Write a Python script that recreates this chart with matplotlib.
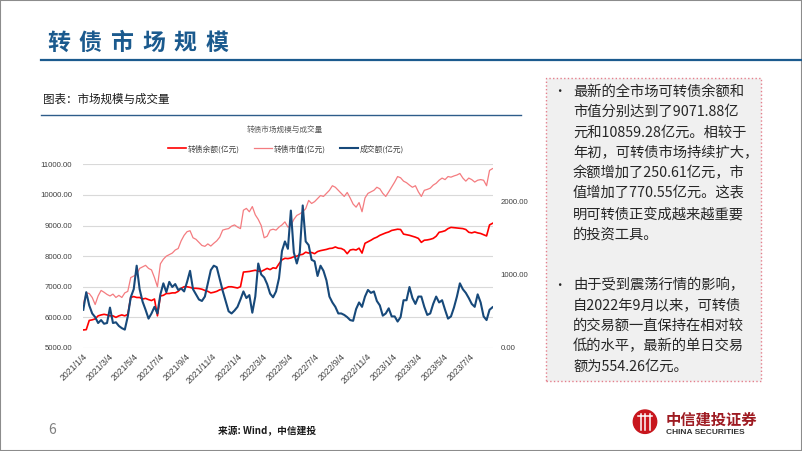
import numpy as np
import pandas as pd
import matplotlib
matplotlib.use('Agg')
import matplotlib.pyplot as plt
from matplotlib.patches import Rectangle, Ellipse
from matplotlib.lines import Line2D

plt.rcParams['font.family'] = ['Noto Sans CJK SC', 'DejaVu Sans']

# weekly points, first one is 2021/1/4
start_date = '2021-01-04'

# 转债余额(亿元)
balance = [
    5590, 5600, 5900, 5920, 5950, 6050, 6080, 6100, 6080, 6050,
    6050, 6000, 6050, 6080, 6050, 6100, 6650, 6680, 6650, 6650,
    6600, 6620, 6580, 6550, 6600, 6050, 6700, 6720, 6780, 6780,
    6800, 6800, 6850, 6950, 7000, 7000, 6980, 6950, 6950, 6940,
    6920, 6880, 6850, 6800, 6820, 6850, 6900, 6920, 6960, 7000,
    7000, 6980, 6960, 7000, 7480, 7490, 7500, 7520, 7540, 7510,
    7500, 7550, 7600, 7560, 7620, 7600, 7750, 7880, 7930, 7920,
    7940, 7980, 8000, 8040, 8060, 8130, 8100, 8120, 8080, 8150,
    8180, 8200, 8220, 8250, 8260, 8300, 8260, 8250, 8200, 8080,
    8200, 8220, 8200, 8260, 8100, 8420, 8470, 8520, 8580, 8620,
    8680, 8720, 8760, 8790, 8840, 8860, 8880, 8870, 8720, 8700,
    8680, 8650, 8620, 8580, 8450, 8520, 8530, 8550, 8580, 8650,
    8780, 8800, 8830, 8900, 8940, 8930, 8920, 8910, 8900, 8870,
    8780, 8760, 8790, 8760, 8740, 8700, 8660, 9020, 9071.88]

# 转债市值(亿元)
market_value = [
    6450, 6800, 6780, 6650, 6420, 6700, 6880, 6820, 6750, 6700,
    6760, 6650, 6720, 6650, 6800, 6850, 7300, 7350, 7400, 7600,
    7650, 7700, 7600, 7550, 7300, 7000, 7750, 7900, 8000, 8050,
    8100, 8200, 8250, 8500, 8680, 8800, 8830, 8600, 8550, 8450,
    8350, 8320, 8400, 8330, 8420, 8500, 8620, 8850, 8880, 8900,
    8980, 9020, 8950, 8900, 9500, 9560, 9450, 9620, 9350, 9200,
    9000, 8600, 8650, 8850, 8880, 8850, 8950, 9020, 9120, 8950,
    9000, 9200, 9330, 9380, 9450, 9550, 9820, 9720, 9780, 9880,
    9980, 9950, 10050, 10150, 10300, 10250, 10150, 10050, 9950, 10080,
    9900, 9700, 9600, 9750, 9450, 9900, 10050, 10100, 10150, 10250,
    10200, 10050, 9950, 10100, 10260, 10420, 10600, 10560, 10450, 10400,
    10320, 10250, 10300, 10100, 9950, 10150, 10180, 10220, 10320, 10380,
    10480, 10550, 10500, 10600, 10580, 10620, 10650, 10700, 10550, 10450,
    10550, 10500, 10420, 10480, 10500, 10480, 10300, 10800, 10859.28]

# 成交额(亿元), right axis
turnover = [
    520, 760, 580, 470, 420, 340, 380, 330, 340, 550,
    340, 350, 300, 270, 250, 430, 690, 800, 1120, 800,
    630, 520, 400, 470, 560, 470, 730, 880, 760, 900,
    830, 870, 790, 810, 770, 900, 1050, 800, 730, 660,
    640, 700, 880, 1060, 1120, 1100, 940, 780, 640, 500,
    470, 510, 560, 660, 770, 680, 720, 480, 700, 1150,
    1000, 960, 870, 740, 690, 770, 950, 1320, 1450, 1350,
    1870, 1300, 1150, 1300, 1940, 1450, 1400, 1200, 1180, 980,
    1120, 1050, 920, 700, 620, 560, 470, 470, 450, 420,
    380, 370, 530, 620, 560, 700, 790, 750, 770, 640,
    580, 440, 470, 540, 430, 430, 360, 420, 650, 650,
    830, 680, 600, 700, 700, 560, 450, 470, 600, 700,
    620, 650, 520, 400, 430, 550, 700, 880, 800, 750,
    680, 600, 560, 730, 620, 430, 380, 520, 554.26]

x_tick_labels = ['2021/1/4', '2021/3/4', '2021/5/4', '2021/7/4', '2021/9/4',
                 '2021/11/4', '2022/1/4', '2022/3/4', '2022/5/4', '2022/7/4',
                 '2022/9/4', '2022/11/4', '2023/1/4', '2023/3/4', '2023/5/4',
                 '2023/7/4']
left_ticks = [5000, 6000, 7000, 8000, 9000, 10000, 11000]
right_ticks = [0, 1000, 2000]

para1 = ['最新的全市场可转债余额和',
         '市值分别达到了9071.88亿',
         '元和10859.28亿元。相较于',
         '年初，可转债市场持续扩大，',
         '余额增加了250.61亿元，市',
         '值增加了770.55亿元。这表',
         '明可转债正变成越来越重要',
         '的投资工具。']
para2 = ['由于受到震荡行情的影响，',
         '自2022年9月以来，可转债',
         '的交易额一直保持在相对较',
         '低的水平，最新的单日交易',
         '额为554.26亿元。']

W, H = 802, 451


def px(x, y):
    # pixel position (from top left) -> figure fraction
    return x / W, 1 - y / H


fig = plt.figure(figsize=(W / 100, H / 100), dpi=100)
fig.patch.set_facecolor('white')

dates = pd.date_range(start_date, periods=len(balance), freq='7D')

ax = fig.add_axes([83.3 / W, 1 - 348 / H, (492.5 - 83.3) / W, (348 - 164.3) / H])
l1, = ax.plot(dates, balance, color='#FF0000', lw=1.2, label='转债余额(亿元)')
l2, = ax.plot(dates, market_value, color='#F47C80', lw=0.9, label='转债市值(亿元)')
ax.set_ylim(5000, 11000)
ax.set_yticks(left_ticks)
ax.set_yticklabels(['%.2f' % v for v in left_ticks], family='Liberation Sans',
                   fontsize=5.6, color='#404040')
ax.set_xlim(dates[0], dates[-1])
ax.set_xticks(pd.to_datetime(x_tick_labels, format='%Y/%m/%d'))
ax.set_xticklabels(x_tick_labels, rotation=45, ha='right', rotation_mode='anchor',
                   family='Liberation Sans', fontsize=6.3, color='#404040')
ax.yaxis.grid(True, color='#D9D9D9', lw=0.8)
ax.set_axisbelow(True)
ax.tick_params(axis='both', length=0)
ax.tick_params(axis='y', pad=8)
ax.tick_params(axis='x', pad=3)
for s in ax.spines.values():
    s.set_visible(False)

ax2 = ax.twinx()
l3, = ax2.plot(dates, turnover, color='#17497A', lw=1.5, label='成交额(亿元)')
ax2.set_ylim(0, 2500)
ax2.set_yticks(right_ticks)
ax2.set_yticklabels(['%.2f' % v for v in right_ticks], family='Liberation Sans',
                    fontsize=5.6, color='#404040')
ax2.tick_params(axis='y', length=0, pad=6)
for s in ax2.spines.values():
    s.set_visible(False)

# chart title and legend
fig.text(*px(285, 131), '转债市场规模与成交量', fontsize=5.5, color='#595959',
         ha='center', va='center')
fig.legend(handles=[l1, l2, l3], loc='center', bbox_to_anchor=px(286, 149),
           ncol=3, frameon=False, fontsize=5.6, handlelength=2.3,
           handletextpad=0.2, columnspacing=1.9, labelcolor='#404040')

# slide frame
fig.add_artist(Rectangle((0, 0), 1, 1, transform=fig.transFigure, fill=False,
                         edgecolor='#8C8C8C', lw=1.5))

# slide title
for k, ch in enumerate('转债市场规模'):
    fig.text(*px(47 + k * 31.7, 43), ch, fontsize=16.5, fontweight='bold',
             color='#1B5A8E', ha='left', va='center')
fig.add_artist(Line2D([40.7 / W, 1], [1 - 60 / H] * 2, transform=fig.transFigure,
                      color='#1B5A8E', lw=1.6))

fig.text(*px(43, 99), '图表：市场规模与成交量', fontsize=8.3, color='#1A1A1A',
         ha='left', va='center')
fig.add_artist(Line2D([41 / W, 521 / W], [1 - 115 / H] * 2, transform=fig.transFigure,
                      color='#2E5C8A', lw=1.0))

# text box on the right
x0, y0 = px(546, 380.7)
fig.add_artist(Rectangle((x0, y0), (760.7 - 546) / W, (380.7 - 78.3) / H,
                         transform=fig.transFigure, facecolor='#F0F0F0',
                         edgecolor='#E57F8C', lw=1.0, linestyle=':'))
for j, line in enumerate(para1):
    fig.text(*px(573, 91.7 + j * 20.4), line, fontsize=10.3, color='#262626',
             ha='left', va='center')
fig.text(*px(559, 91.7), '•', fontsize=9, color='#262626', ha='center', va='center')
for j, line in enumerate(para2):
    fig.text(*px(573, 285 + j * 20.4), line, fontsize=10.3, color='#262626',
             ha='left', va='center')
fig.text(*px(559, 285), '•', fontsize=9, color='#262626', ha='center', va='center')

# footer
fig.text(*px(48, 430), '6', fontsize=10, color='#7F7F7F', ha='left', va='center')
fig.text(*px(218, 431.5), '来源: Wind，中信建投', fontsize=7, fontweight='bold',
         color='#1A1A1A', ha='left', va='center')

# logo
cx, cy = px(645, 421.7)
fig.add_artist(Ellipse((cx, cy), 23.4 / W, 23.4 / H, transform=fig.transFigure,
                       color='#C8161D'))
for dx in (-4.5, 0, 4.5):
    fig.add_artist(Line2D([(645 + dx) / W] * 2, [1 - 414 / H, 1 - 430 / H],
                          transform=fig.transFigure, color='white', lw=1.1))
fig.add_artist(Line2D([638 / W, 652 / W], [1 - 416 / H] * 2,
                      transform=fig.transFigure, color='white', lw=1.1))
fig.text(*px(666, 420), '中信建投证券', fontsize=11, fontweight='bold',
         color='#9E1B22', ha='left', va='center')
fig.text(*px(666.5, 432.5), 'CHINA SECURITIES', fontsize=6, fontweight='bold',
         family='Liberation Sans', color='#333333', ha='left', va='center')

fig.savefig('out.png', dpi=100, facecolor='white')
